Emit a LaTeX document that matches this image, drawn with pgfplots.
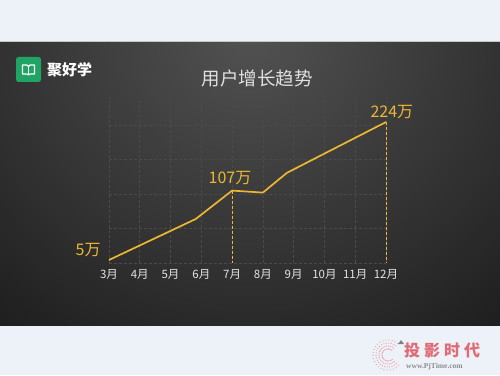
\documentclass[border=0pt]{standalone}
\usepackage{fontspec}
\setmainfont{Noto Sans CJK SC}
\newfontfamily\wmserif{Liberation Serif}
\usepackage{pgfplots}
\pgfplotsset{compat=1.18}
\definecolor{gold}{HTML}{EDB731}
\definecolor{bgpage}{HTML}{EDF1F8}
\definecolor{gridc}{HTML}{4A4A4A}
\definecolor{tickc}{HTML}{E4E4E4}
\definecolor{logog}{HTML}{1FA463}
\definecolor{wm}{HTML}{E06A75}
\definecolor{wmg}{HTML}{8C8C8C}
\begin{document}
\begin{tikzpicture}[x=1pt,y=1pt]
\useasboundingbox (0,0) rectangle (500,375);
\fill[bgpage] (0,0) rectangle (500,375);
\fill[gray!45] (0,331.5) rectangle (500,334);
\fill[gray!60] (0,49) rectangle (500,50.5);
\begin{scope}
\clip (0,50) rectangle (500,332);
\fill[black!94] (0,50) rectangle (500,332);
\shade[inner color=black!68, outer color=black!94] (250,340) ellipse (520 and 480);
\end{scope}
% logo
\fill[logog, rounded corners=2.5pt] (16,293) rectangle (41,318);
\draw[white,line width=1.2pt,line join=round] (22.5,301) -- (22.5,310) -- (27,310) -- (28.5,308.5) -- (30,310) -- (34.5,310) -- (34.5,301) -- (30,301) -- (28.5,300) -- (27,301) -- cycle;
\draw[white,line width=1pt] (28.5,308.5) -- (28.5,300.5);
\node[anchor=west, white, font=\fontsize{15}{15}\selectfont\bfseries, inner sep=0pt] at (47,305.5) {聚好学};
% title
\node[color=white!88!black, font=\fontsize{18.5}{18.5}\selectfont] at (257,297) {用户增长趋势};
\coordinate (A) at (109,112);
\begin{axis}[
  at={(A)}, anchor=south west,
  scale only axis, width=277pt, height=166pt,
  xmin=0, xmax=9, ymin=0, ymax=265,
  axis line style={draw=none},
  major tick style={draw=none},
  xtick={0,1,2,3,4,5,6,7,8,9},
  xticklabels={3月,4月,5月,6月,7月,8月,9月,10月,11月,12月},
  ytick={0,55,110,165,220},
  yticklabels={},
  xmajorgrids, ymajorgrids,
  major grid style={gridc, densely dashed, line width=0.6pt},
  xticklabel style={tickc, font=\fontsize{11.5}{11.5}\selectfont, yshift=-3pt},
  clip=false,
]
\addplot[gold, densely dashed, line width=0.8pt] coordinates {(4,115.6) (4,0)};
\addplot[gold, densely dashed, line width=0.8pt] coordinates {(9,225) (9,0)};
\addplot[gold, line width=1.7pt, line join=round] coordinates {(0,4.8) (2.82,70.3) (4,115.6) (5,112.4) (5.78,143.9) (9,225)};
\node[gold, font=\fontsize{16}{16}\selectfont] at (axis cs:-0.68,20.8) {5万};
\node[gold, font=\fontsize{16}{16}\selectfont] at (axis cs:3.93,135.9) {107万};
\node[gold, font=\fontsize{16}{16}\selectfont] at (axis cs:9.19,241.4) {224万};
\end{axis}
% watermark
\foreach \a in {50,62,...,320} {
  \foreach \r in {6,9,12,15} {
    \fill[wm!70] ({388+\r*cos(\a)},{20+\r*sin(\a)}) circle (0.6pt);
  }
}
\fill[gray] (401,35) -- (404,31) -- (398,31) -- cycle;
\node[wm, font=\fontsize{16}{16}\selectfont\bfseries, anchor=west, inner sep=0pt] at (404,25) {投\hspace{4pt}影\hspace{4pt}时\hspace{4pt}代};
\node[wmg, font=\wmserif\fontsize{7.5}{7.5}\selectfont\bfseries, anchor=west, inner sep=0pt] at (406,8.5) {www.PjTime.com};
\end{tikzpicture}
\end{document}
